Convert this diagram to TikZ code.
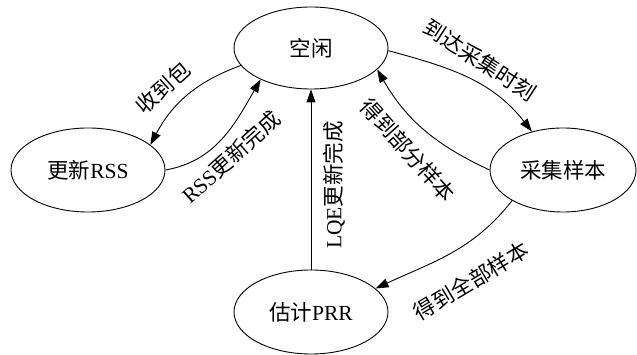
\documentclass[tikz,border=0pt]{standalone}
\usepackage{fontspec}
\setmainfont{Liberation Serif}
\newfontfamily\cjk{Noto Sans CJK SC}
\usetikzlibrary{shapes.geometric,arrows.meta}
\tikzset{
  state/.style={draw, ellipse, line width=0.9pt, inner sep=0pt, font=\fontsize{21.5}{21.5}\selectfont},
  lbl/.style={inner sep=0pt, font=\fontsize{21.5}{21.5}\selectfont},
  edge/.style={draw, line width=0.9pt, -{Triangle[length=13pt,width=9pt]}}
}
\begin{document}
\begin{tikzpicture}[x=1pt,y=-1pt]
\useasboundingbox (0,0) rectangle (637,355);
\node[state, minimum width=154pt, minimum height=82pt] (idle) at (311,48) {\cjk 空闲};
\node[state, minimum width=154pt, minimum height=84pt] (rss) at (88,170) {{\cjk 更新}RSS};
\node[state, minimum width=146pt, minimum height=84pt] (samp) at (563,170) {\cjk 采集样本};
\node[state, minimum width=154pt, minimum height=84pt] (prr) at (311,312) {{\cjk 估计}PRR};

\draw[edge] (idle.194) to[out=200, in=62] (rss.22);
\draw[edge] (rss.0) to[out=10, in=240] (idle.212);
\draw[edge] (idle.358) to[out=-15, in=128] (samp.129);
\draw[edge] (samp.180) to[out=155, in=-60] (idle.342);
\draw[edge] (samp.211) to[out=232, in=25] (prr.20);
\draw[edge] (prr.north) -- (idle.south);

\node[lbl, rotate=42] (l1) at (163,88) {\cjk 收到包};
\node[lbl, rotate=42] (l2) at (231,157) {RSS{\cjk 更新完成}};
\node[lbl, rotate=-33] (l3) at (480,60) {\cjk 到达采集时刻};
\node[lbl, rotate=-48] (l4) at (408,150) {\cjk 得到部分样本};
\node[lbl, rotate=31] (l5) at (471,281) {\cjk 得到全部样本};
\node[lbl, rotate=90] (l6) at (334,185) {LQE{\cjk 更新完成}};
\end{tikzpicture}
\end{document}
